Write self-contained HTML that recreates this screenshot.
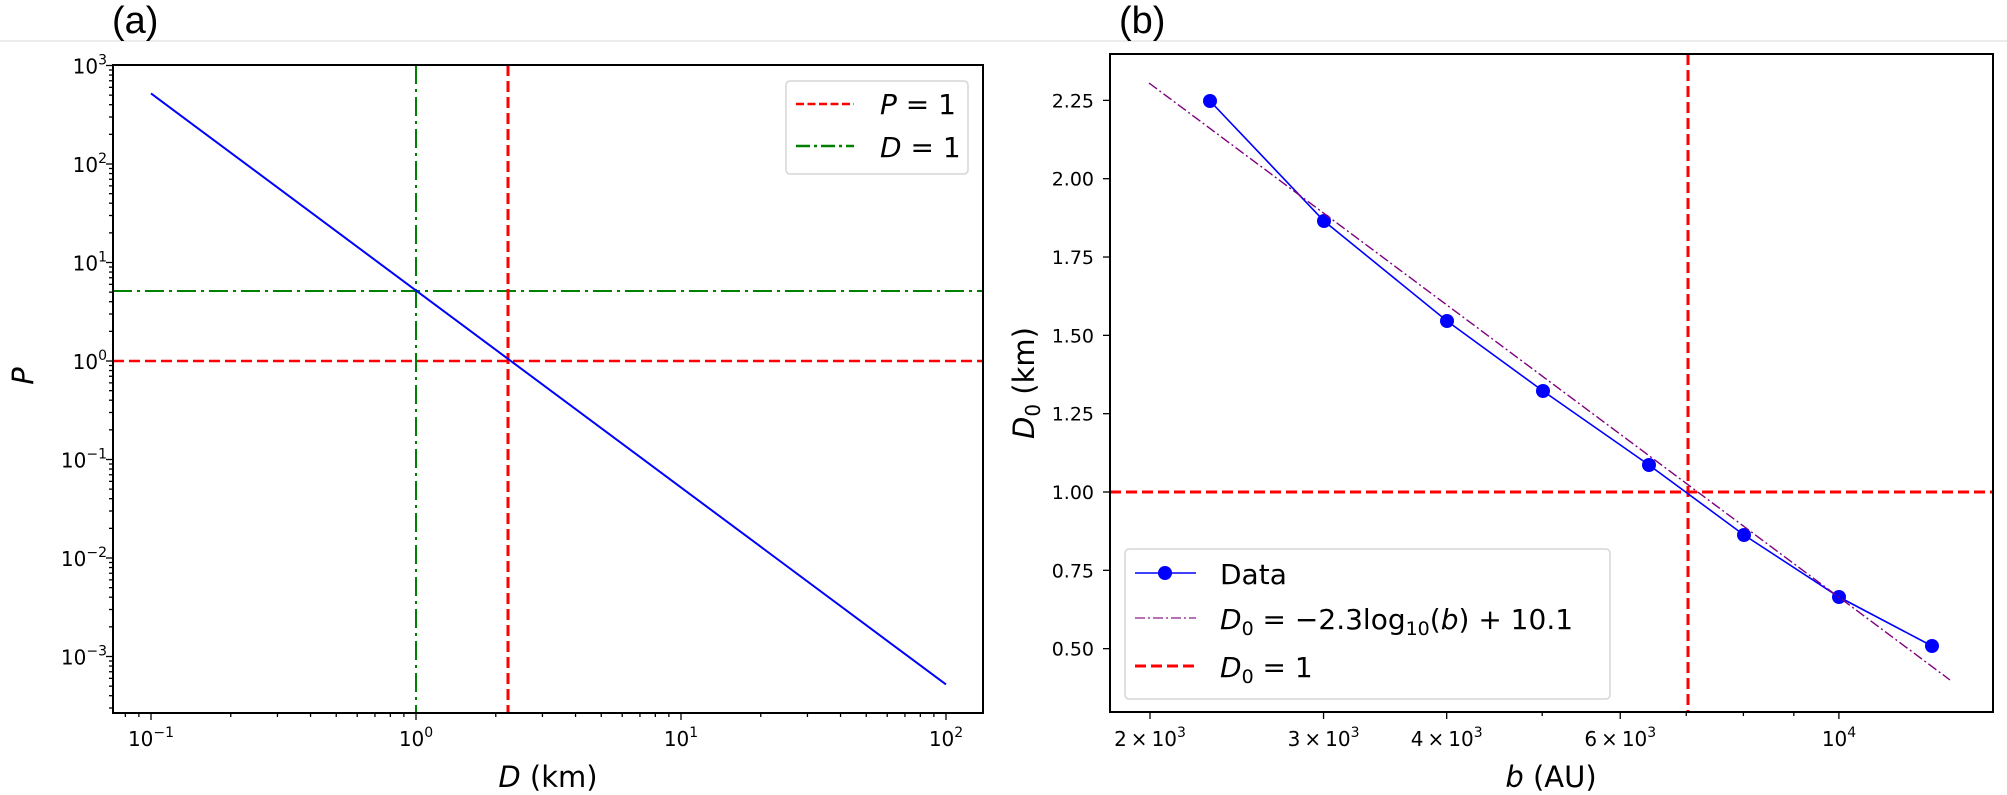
<!DOCTYPE html>
<html><head><meta charset="utf-8"><style>
html,body{margin:0;padding:0;background:#fff;}
svg{display:block;font-family:"DejaVu Sans","Liberation Sans",sans-serif;}
</style></head><body>
<svg id="s" width="2007" height="795" viewBox="0 0 2007 795" xmlns="http://www.w3.org/2000/svg">
<rect width="2007" height="795" fill="#fff"/>
<line x1="0" y1="41" x2="2007" y2="41" stroke="#ececec" stroke-width="2"/>
<text x="112" y="33" font-size="38" font-family="Liberation Sans, sans-serif">(a)</text>
<text x="1119" y="33" font-size="38" font-family="Liberation Sans, sans-serif">(b)</text>
<g id="g"></g>
</svg>
<script>
const g=document.getElementById('g');let h='';
const L=(x1,y1,x2,y2,st)=>h+=`<line x1="${x1}" y1="${y1}" x2="${x2}" y2="${y2}" ${st}/>`;
const T=(x,y,txt,st)=>h+=`<text x="${x}" y="${y}" ${st}>${txt}</text>`;
const ax0=113,ax1=983,ay0=65,ay1=713;
const XA=d=>416+265*Math.log10(d), YA=p=>361-98.5*Math.log10(p);
h+=`<clipPath id="ca"><rect x="${ax0}" y="${ay0}" width="${ax1-ax0}" height="${ay1-ay0}"/></clipPath>`;
h+=`<g clip-path="url(#ca)">`;
L(ax0,291,ax1,291,'stroke="#008000" stroke-width="2" stroke-dasharray="19,5,3,5"');
L(416,ay0,416,ay1,'stroke="#008000" stroke-width="2" stroke-dasharray="19,5,3,5"');
L(ax0,361,ax1,361,'stroke="#ff0000" stroke-width="2.5" stroke-dasharray="11,5"');
L(508,ay0,508,ay1,'stroke="#ff0000" stroke-width="3" stroke-dasharray="11,5"');
L(XA(0.1),YA(520),XA(100),YA(5.2e-4),'stroke="#0000ff" stroke-width="2"');
h+=`</g>`;
for(let e=-2;e<=2;e++)for(let m=1;m<10;m++){const x=XA(m*Math.pow(10,e));if(x<ax0||x>ax1)continue;L(x,ay1,x,ay1+(m==1?7:4),'stroke="#000" stroke-width="1.3"');}
for(let e=-4;e<=3;e++)for(let m=1;m<10;m++){const y=YA(m*Math.pow(10,e));if(y<ay0-0.5||y>ay1)continue;L(ax0,y,ax0-(m==1?7:4),y,'stroke="#000" stroke-width="1.3"');}
const sup=(b,e)=>`${b}<tspan dy="-9" font-size="14">${e}</tspan>`;
[-1,0,1,2].forEach(e=>T(XA(Math.pow(10,e)),746,sup('10',e<0?'−'+(-e):e),'font-size="20" text-anchor="middle"'));
[3,2,1,0,-1,-2,-3].forEach(e=>T(107,YA(Math.pow(10,e))+8,sup('10',e<0?'−'+(-e):e),'font-size="20" text-anchor="end"'));
h+=`<rect x="${ax0}" y="${ay0}" width="${ax1-ax0}" height="${ay1-ay0}" fill="none" stroke="#000" stroke-width="2"/>`;
T(548,787,'<tspan font-style="italic">D</tspan> (km)','font-size="29" text-anchor="middle"');
T(33,376,'<tspan font-style="italic">P</tspan>','font-size="29" text-anchor="middle" transform="rotate(-90 33 376)"');
h+=`<rect x="786" y="81" width="182" height="93" rx="4" fill="#fff" stroke="#d6d6d6" stroke-width="1.5"/>`;
L(796,104,854,104,'stroke="#ff0000" stroke-width="2.5" stroke-dasharray="8,3.5"');
L(796,146,854,146,'stroke="#008000" stroke-width="2.5" stroke-dasharray="14,4,3,4"');
T(880,114,'<tspan font-style="italic">P</tspan> = 1','font-size="28"');
T(880,157,'<tspan font-style="italic">D</tspan> = 1','font-size="28"');
const bx0=1110,bx1=1993,by0=54,by1=712;
const XB=b=>1150+985.6*(Math.log10(b)-Math.log10(2000)), YB=v=>492-313.3*(v-1);
h+=`<clipPath id="cb"><rect x="${bx0}" y="${by0}" width="${bx1-bx0}" height="${by1-by0}"/></clipPath>`;
h+=`<g clip-path="url(#cb)">`;
L(bx0,492,bx1,492,'stroke="#ff0000" stroke-width="3" stroke-dasharray="11,5"');
L(1688,by0,1688,by1,'stroke="#ff0000" stroke-width="3" stroke-dasharray="11,5"');
const pts=[[1210,101],[1324,221],[1447,321],[1543,391],[1649,465],[1744,535],[1839,597],[1932,646]];
h+=`<polyline points="${pts.map(p=>p.join(',')).join(' ')}" fill="none" stroke="#0000ff" stroke-width="1.6"/>`;
pts.forEach(p=>h+=`<circle cx="${p[0]}" cy="${p[1]}" r="7" fill="#0000ff"/>`);
L(1149,83,1950,680,'stroke="#800080" stroke-width="1.4" stroke-dasharray="10,3,2,3"');
h+=`</g>`;
[2000,3000,4000,5000,6000,7000,8000,9000,10000,20000].forEach(b=>{const x=XB(b);if(x<bx0||x>bx1)return;L(x,by1,x,by1+([2000,3000,4000,6000,10000].includes(b)?7:4),'stroke="#000" stroke-width="1.3"');});
[[2000,'2'],[3000,'3'],[4000,'4'],[6000,'6']].forEach(a=>T(XB(a[0]),746,`${a[1]}<tspan dx="4">×</tspan><tspan dx="4">10</tspan><tspan dy="-9" font-size="14">3</tspan>`,'font-size="20" text-anchor="middle"'));
T(1839,746,sup('10','4'),'font-size="20" text-anchor="middle"');
[[2.25],[2.0],[1.75],[1.5],[1.25],[1.0],[0.75],[0.5]].forEach(v=>{const y=YB(v[0]);L(bx0,y,bx0-7,y,'stroke="#000" stroke-width="1.3"');T(1094,y+7,v[0].toFixed(2),'font-size="19" text-anchor="end"');});
h+=`<rect x="${bx0}" y="${by0}" width="${bx1-bx0}" height="${by1-by0}" fill="none" stroke="#000" stroke-width="2"/>`;
T(1551,787,'<tspan font-style="italic">b</tspan> (AU)','font-size="29" text-anchor="middle"');
T(1034,383,'<tspan font-style="italic">D</tspan><tspan font-size="20" dy="6">0</tspan><tspan dy="-6"> (km)</tspan>','font-size="29" text-anchor="middle" transform="rotate(-90 1034 383)"');
h+=`<rect x="1125" y="549" width="485" height="150" rx="4" fill="#fff" stroke="#d6d6d6" stroke-width="1.5"/>`;
L(1135,573,1196,573,'stroke="#0000ff" stroke-width="1.6"');h+=`<circle cx="1165" cy="573" r="7" fill="#0000ff"/>`;
L(1135,618,1196,618,'stroke="#a040a0" stroke-width="1.6" stroke-dasharray="10,3,2,3"');
L(1135,666,1196,666,'stroke="#ff0000" stroke-width="3" stroke-dasharray="11,5"');
T(1220,584,'Data','font-size="28"');
T(1220,629,'<tspan font-style="italic">D</tspan><tspan font-size="19" dy="6">0</tspan><tspan dy="-6"> = −2.3log</tspan><tspan font-size="19" dy="6">10</tspan><tspan dy="-6">(</tspan><tspan font-style="italic">b</tspan>) + 10.1','font-size="28"');
T(1220,677,'<tspan font-style="italic">D</tspan><tspan font-size="19" dy="6">0</tspan><tspan dy="-6"> = 1</tspan>','font-size="28"');
g.innerHTML=h;
</script>
</body></html>
